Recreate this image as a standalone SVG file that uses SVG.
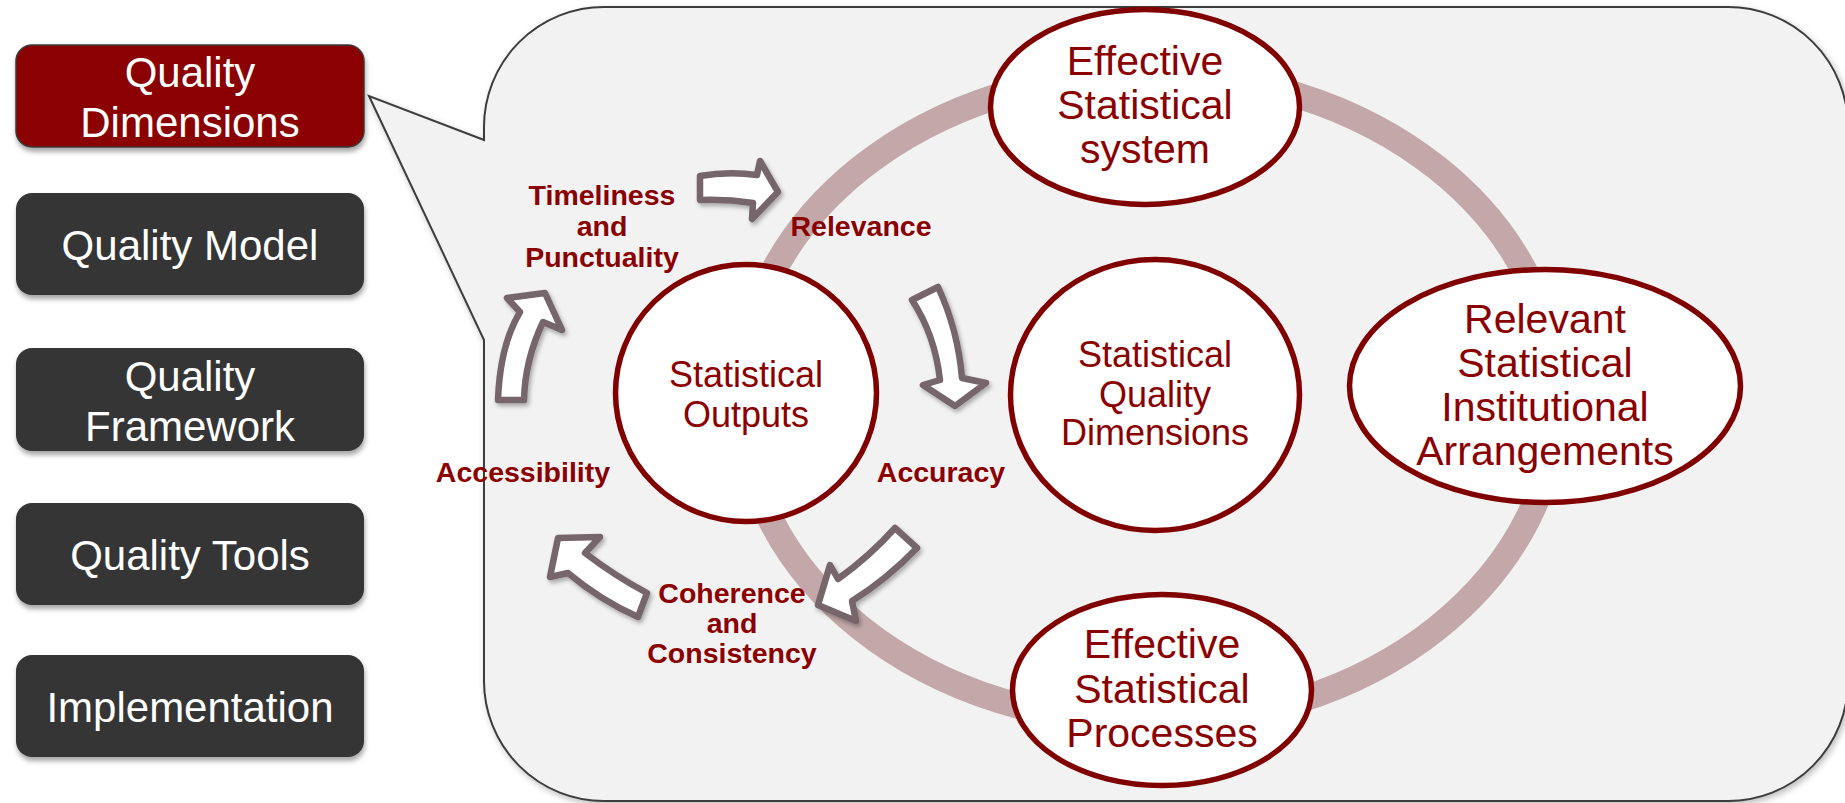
<svg xmlns="http://www.w3.org/2000/svg" width="1845" height="803" viewBox="0 0 1845 803">
<style>
.box{fill:#363636;stroke:none}
.boxsel{fill:#8b0000;stroke:#3a3a3a;stroke-width:1.5}
.btxt{font-family:"Liberation Sans",Arial,sans-serif;font-size:42px;fill:#ffffff;text-anchor:middle}
.node{fill:#ffffff;stroke:#800000;stroke-width:5.5}
.ntxt{font-family:"Liberation Sans",Arial,sans-serif;font-size:41px;fill:#8b0000;text-anchor:middle}
.ntxt2{font-family:"Liberation Sans",Arial,sans-serif;font-size:36px;fill:#8b0000;text-anchor:middle}
.lbl{font-family:"Liberation Sans",Arial,sans-serif;font-size:28.5px;font-weight:bold;fill:#8b0000;text-anchor:middle}
.arr{fill:#ffffff;stroke:#76656b;stroke-width:6.5;stroke-linejoin:round;filter:url(#ash)}
.ring{fill:none;stroke:#c4a8a9;stroke-width:26}
</style>
<defs>
<filter id="bsh" x="-10%" y="-10%" width="120%" height="140%">
<feDropShadow dx="1" dy="4" stdDeviation="2.5" flood-color="#000" flood-opacity="0.35"/>
</filter>
<filter id="ash" x="-30%" y="-30%" width="160%" height="160%">
<feDropShadow dx="2" dy="3" stdDeviation="2" flood-color="#000" flood-opacity="0.3"/>
</filter>
<filter id="bubsh" x="-5%" y="-5%" width="110%" height="110%">
<feDropShadow dx="2" dy="3" stdDeviation="3" flood-color="#000" flood-opacity="0.25"/>
</filter>
</defs>
<rect width="1845" height="803" fill="#ffffff"/>

<g id="callout">
<path d="M 604,7 H 1728 A 120,120 0 0 1 1848,127 V 681 A 120,120 0 0 1 1728,801 H 604 A 120,120 0 0 1 484,681 V 340 L 369,96 L 484,140 V 127 A 120,120 0 0 1 604,7 Z" fill="#f2f2f2" stroke="#3c3c3c" stroke-width="2" filter="url(#bubsh)"/>
</g>

<g id="menu-quality-dimensions">
<rect class="boxsel" x="16" y="45" width="348" height="102" rx="16" filter="url(#bsh)"/>
<text class="btxt" x="190" y="87">Quality</text>
<text class="btxt" x="190" y="137">Dimensions</text>
</g>
<g id="menu-quality-model">
<rect class="box" x="16" y="193" width="348" height="102" rx="16" filter="url(#bsh)"/>
<text class="btxt" x="190" y="260">Quality Model</text>
</g>
<g id="menu-quality-framework">
<rect class="box" x="16" y="348" width="348" height="103" rx="16" filter="url(#bsh)"/>
<text class="btxt" x="190" y="391">Quality</text>
<text class="btxt" x="190" y="441">Framework</text>
</g>
<g id="menu-quality-tools">
<rect class="box" x="16" y="503" width="348" height="102" rx="16" filter="url(#bsh)"/>
<text class="btxt" x="190" y="570">Quality Tools</text>
</g>
<g id="menu-implementation">
<rect class="box" x="16" y="655" width="348" height="102" rx="16" filter="url(#bsh)"/>
<text class="btxt" x="190" y="722">Implementation</text>
</g>

<g id="connectors">
<ellipse class="ring" cx="1149" cy="398" rx="408" ry="325"/>
</g>

<g id="node-effective-system">
<ellipse class="node" cx="1145" cy="107" rx="154.5" ry="97.5"/>
<text class="ntxt" x="1145" y="75">Effective</text>
<text class="ntxt" x="1145" y="119">Statistical</text>
<text class="ntxt" x="1145" y="163">system</text>
</g>
<g id="node-statistical-outputs">
<ellipse class="node" cx="746" cy="393" rx="130.5" ry="128.5"/>
<text class="ntxt2" x="746" y="387">Statistical</text>
<text class="ntxt2" x="746" y="427">Outputs</text>
</g>
<g id="node-quality-dimensions">
<ellipse class="node" cx="1155" cy="395" rx="144.5" ry="135.5"/>
<text class="ntxt2" x="1155" y="367">Statistical</text>
<text class="ntxt2" x="1155" y="407">Quality</text>
<text class="ntxt2" x="1155" y="445">Dimensions</text>
</g>
<g id="node-institutional-arrangements">
<ellipse class="node" cx="1545" cy="386" rx="195.5" ry="116.5"/>
<text class="ntxt" x="1545" y="333">Relevant</text>
<text class="ntxt" x="1545" y="377">Statistical</text>
<text class="ntxt" x="1545" y="421">Institutional</text>
<text class="ntxt" x="1545" y="465">Arrangements</text>
</g>
<g id="node-effective-processes">
<ellipse class="node" cx="1162" cy="690" rx="149.5" ry="95.5"/>
<text class="ntxt" x="1162" y="658">Effective</text>
<text class="ntxt" x="1162" y="703">Statistical</text>
<text class="ntxt" x="1162" y="747">Processes</text>
</g>

<g id="cycle-arrows">
<path class="arr" d="M 700,176 Q 728,171 757,175 L 760,161 L 778,192 L 752,219 L 753,203 Q 727,199 700,200 Z"/>
<path class="arr" d="M 912,300 L 938,287 Q 958,330 962,378 L 986,383 L 955,406 L 923,385 L 940,380 Q 935,335 912,300 Z"/>
<path class="arr" d="M 895,528 L 917,548 Q 886,580 852,601 L 856,621 L 818,605 L 830,565 L 838,579 Q 870,556 895,528 Z"/>
<path class="arr" d="M 558,538 L 600,537 L 585,553 Q 615,576 647,593 L 638,617 Q 600,600 568,573 L 550,577 Z"/>
<path class="arr" d="M 498,400 Q 500,345 520,312 L 507,298 L 545,293 L 562,330 L 543,322 Q 525,360 524,400 Z"/>
</g>

<g id="labels">
<text class="lbl" x="602" y="205">Timeliness</text>
<text class="lbl" x="602" y="236">and</text>
<text class="lbl" x="602" y="267">Punctuality</text>
<text class="lbl" x="861" y="236">Relevance</text>
<text class="lbl" x="523" y="482">Accessibility</text>
<text class="lbl" x="941" y="482">Accuracy</text>
<text class="lbl" x="732" y="603">Coherence</text>
<text class="lbl" x="732" y="633">and</text>
<text class="lbl" x="732" y="663">Consistency</text>
</g>
</svg>
